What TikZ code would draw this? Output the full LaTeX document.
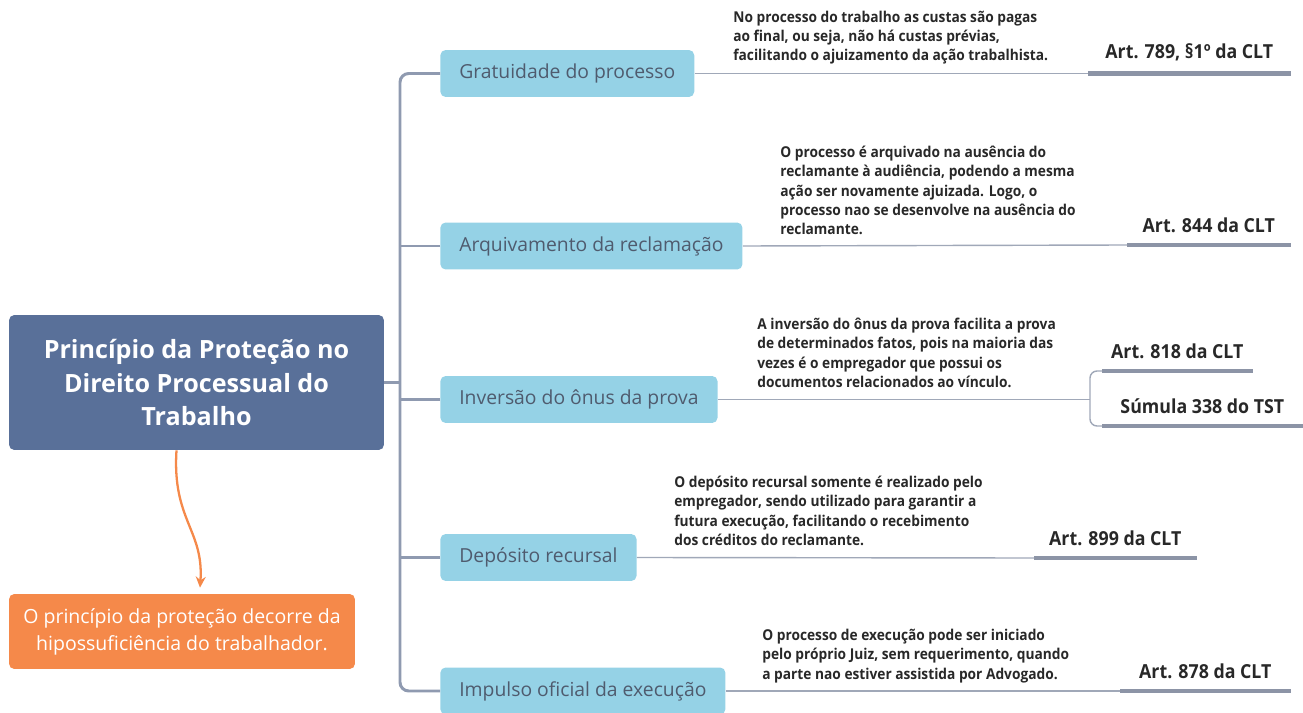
\documentclass[tikz,border=0pt]{standalone}
\usepackage{fontspec}
\setmainfont{Open Sans}
\newfontfamily\descfont{Open Sans}[FakeStretch=0.92]
\usepackage{tikz}
\usetikzlibrary{arrows.meta,positioning}
\definecolor{mainblue}{RGB}{89,112,153}
\definecolor{orangebox}{RGB}{245,137,74}
\definecolor{lightblue}{RGB}{149,210,230}
\definecolor{boxtext}{RGB}{79,91,110}
\definecolor{spinegray}{RGB}{143,154,176}
\definecolor{thingray}{RGB}{160,168,184}
\definecolor{refgray}{RGB}{140,148,166}
\definecolor{darktext}{RGB}{40,40,40}

\begin{document}
\begin{tikzpicture}[x=0.02cm, y=-0.02cm,
      mainbox/.style={rectangle, rounded corners=3pt, fill=mainblue, text=white,
        minimum width=7.5cm, minimum height=2.7cm, align=center,
        font=\fontsize{14.3}{19.3}\selectfont\bfseries},
      notebox/.style={rectangle, rounded corners=3pt, fill=orangebox, text=white,
        minimum width=6.92cm, minimum height=1.5cm, align=center,
        font=\fontsize{11.1}{15.3}\selectfont},
      branch/.style={rectangle, rounded corners=3pt, fill=lightblue, text=boxtext,
        minimum height=0.94cm, inner xsep=0.38cm, anchor=west,
        font=\fontsize{11}{13}\selectfont},
      desc/.style={anchor=north west, inner sep=0pt, align=left, text=darktext,
        font=\descfont\fontsize{8.5}{10.9}\selectfont\bfseries},
      ref/.style={anchor=south west, inner xsep=0pt, inner ysep=0.24cm, text=darktext,
        font=\descfont\fontsize{11}{13}\selectfont\bfseries},
      spine/.style={draw=spinegray, line width=1.7pt, rounded corners=5pt},
      thin/.style={draw=thingray, line width=0.8pt},
      uline/.style={draw=refgray, line width=2.8pt},
      curv/.style={-{Stealth[length=2.2mm, width=2mm]}, draw=orangebox, line width=1.3pt}
    ]
      \useasboundingbox (0,0) rectangle (1303,713);
      % central idea and note
      \node[mainbox] (main) at (196.5,382.5) {Princípio da Proteção no\\Direito Processual do\\Trabalho};
      \node[notebox] (note) at (182,631.5) {O princípio da proteção decorre da\\hipossuficiência do trabalhador.};
      \draw[curv] ([xshift=-0.4cm]main.south) .. controls (172,520) and (204,530) .. ([xshift=0.36cm, yshift=0.12cm]note.north);

      % branches
      \node[branch] (b1) at (440,73.5) {Gratuidade do processo};
      \node[branch] (b2) at (440,246) {Arquivamento da reclamação};
      \node[branch] (b3) at (440,399.5) {Inversão do ônus da prova};
      \node[branch] (b4) at (440,557.5) {Depósito recursal};
      \node[branch] (b5) at (440,691) {Impulso oficial da execução};
      \draw[spine] (b1.west) -- ++(-40,0) |- (b5.west);
      \draw[spine] (b2.west) -- ++(-40,0);
      \draw[spine] (b3.west) -- ++(-40,0);
      \draw[spine] (b4.west) -- ++(-40,0);
      \draw[spine] (main.east) -- ++(16,0);

      % descriptions
      \node[desc] (d1) at (733,11) {No processo do trabalho as custas são pagas\\ao final, ou seja, não há custas prévias,\\facilitando o ajuizamento da ação trabalhista.};
      \node[desc] (d2) at (780,146) {O processo é arquivado na ausência do\\reclamante à audiência, podendo a mesma\\ação ser novamente ajuizada. Logo, o\\processo nao se desenvolve na ausência do\\reclamante.};
      \node[desc] (d3) at (757,318) {A inversão do ônus da prova facilita a prova\\de determinados fatos, pois na maioria das\\vezes é o empregador que possui os\\documentos relacionados ao vínculo.};
      \node[desc] (d4) at (674,476) {O depósito recursal somente é realizado pelo\\empregador, sendo utilizado para garantir a\\futura execução, facilitando o recebimento\\dos créditos do reclamante.};
      \node[desc] (d5) at (762,629) {O processo de execução pode ser iniciado\\pelo próprio Juiz, sem requerimento, quando\\a parte nao estiver assistida por Advogado.};

      % legal references
      \node[ref, minimum width=4.04cm] (r1) at (1088,73.5) {Art. 789, §1º da CLT};
      \node[ref, minimum width=3.26cm] (r2) at (1127,245) {Art. 844 da CLT};
      \node[ref, minimum width=3.0cm] (r3a) at (1102,371) {Art. 818 da CLT};
      \node[ref, minimum width=4.0cm] (r3b) at (1102,426) {Súmula 338 do TST};
      \node[ref, minimum width=3.24cm] (r4) at (1034,558) {Art. 899 da CLT};
      \node[ref, minimum width=3.4cm] (r5) at (1120,691) {Art. 878 da CLT};
      \foreach \r in {r1,r2,r3a,r3b,r4,r5}
        \draw[uline] (\r.south west) -- (\r.south east);
      \draw[thin] (b1.east) -- (r1.south west);
      \draw[thin] (b2.east) -- (r2.south west);
      \draw[thin] (b3.east) -- (b3.east -| 1090,0);
      \draw[thin, rounded corners=4pt] (r3a.south west) -- ++(-12,0) |- (r3b.south west);
      \draw[thin] (b4.east) -- (r4.south west);
      \draw[thin] (b5.east) -- (r5.south west);
    \end{tikzpicture}
\end{document}
